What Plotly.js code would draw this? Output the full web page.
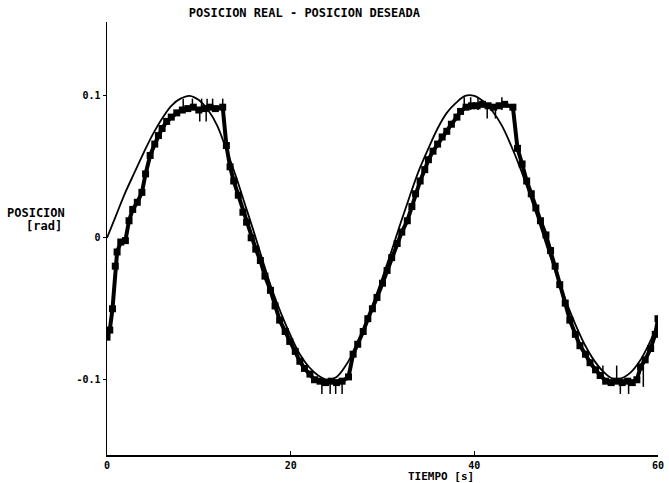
<!DOCTYPE html>
<html>
<head>
<meta charset="utf-8">
<script src="https://cdn.plot.ly/plotly-3.0.1.min.js"></script>
<style>html,body{margin:0;padding:0;background:#fff;}#chart{width:669px;height:483px;}</style>
</head>
<body>
<div id="chart"></div>
<script>
// Posicion deseada (thin line)
const tDeseada = [0,1,2,3,4,5,6,7,8,9,10,11,12,13,14,15,16,17,18,19,20,21,22,23,24,25,26,27,28,29,30,31,32,33,34,35,36,37,38,39,40,41,42,43,44,45,46,47,48,49,50,51,52,53,54,55,56,57,58,59,60];
const posDeseada = [0.000,0.016,0.032,0.046,0.060,0.073,0.084,0.093,0.098,0.100,0.097,0.090,0.079,0.062,0.044,0.024,0.004,-0.017,-0.037,-0.054,-0.069,-0.082,-0.091,-0.097,-0.100,-0.098,-0.090,-0.078,-0.063,-0.046,-0.028,-0.009,0.011,0.030,0.048,0.063,0.077,0.088,0.095,0.100,0.100,0.096,0.089,0.079,0.065,0.049,0.031,0.012,-0.008,-0.027,-0.045,-0.061,-0.075,-0.086,-0.094,-0.099,-0.099,-0.095,-0.087,-0.075,-0.060];

// Posicion real (thick stepped line)
const tReal = [0.0,0.3,0.6,0.9,1.1,1.5,2.0,2.4,2.8,3.3,3.8,4.2,4.7,5.2,5.6,6.0,6.5,7.0,7.6,8.2,8.8,9.4,10.0,10.6,11.2,11.8,12.6,13.0,13.4,13.8,14.3,14.8,15.2,15.7,16.2,16.7,17.2,17.8,18.3,18.8,19.4,19.9,20.5,21.0,21.5,22.1,22.6,23.2,23.8,24.4,25.0,25.6,26.3,26.8,27.3,27.9,28.4,28.9,29.4,30.0,30.5,31.0,31.6,32.1,32.7,33.2,33.6,34.1,34.6,35.0,35.5,36.0,36.5,37.0,37.5,38.1,38.5,39.1,39.7,40.3,40.9,41.5,42.1,42.7,43.3,44.2,44.7,45.2,45.7,46.2,46.7,47.2,47.8,48.3,48.8,49.3,49.9,50.4,51.0,51.5,52.1,52.6,53.2,53.7,54.3,54.9,55.5,56.1,56.7,57.2,57.7,58.1,58.6,59.2,59.7,60.0];
const posReal = [-0.070,-0.065,-0.050,-0.020,-0.010,-0.003,-0.002,0.012,0.020,0.025,0.032,0.045,0.058,0.066,0.072,0.077,0.082,0.085,0.088,0.090,0.091,0.092,0.090,0.091,0.092,0.091,0.092,0.065,0.050,0.040,0.030,0.018,0.011,0.000,-0.008,-0.016,-0.027,-0.037,-0.048,-0.058,-0.066,-0.073,-0.080,-0.087,-0.092,-0.096,-0.100,-0.101,-0.102,-0.101,-0.102,-0.101,-0.098,-0.082,-0.075,-0.066,-0.057,-0.050,-0.042,-0.032,-0.023,-0.014,-0.004,0.004,0.012,0.022,0.031,0.040,0.048,0.055,0.061,0.066,0.071,0.075,0.080,0.085,0.089,0.092,0.093,0.093,0.094,0.093,0.092,0.093,0.094,0.092,0.063,0.052,0.040,0.031,0.021,0.012,0.002,-0.009,-0.020,-0.033,-0.046,-0.058,-0.068,-0.076,-0.082,-0.088,-0.093,-0.097,-0.101,-0.102,-0.101,-0.102,-0.101,-0.102,-0.100,-0.091,-0.086,-0.078,-0.068,-0.057];

// Ruido (vertical spikes on the real signal)
const tRuido  = [8.3,9.3,10.1,10.3,10.8,10.9,11.5,12.6,23.4,24.3,24.9,25.6,38.9,39.6,40.4,41.4,42.3,43.0,54.0,55.5,55.9,56.8,58.4];
const ruidoLo = [0.090,0.090,0.082,0.090,0.082,0.090,0.090,0.090,-0.110,-0.110,-0.110,-0.110,0.090,0.090,0.090,0.084,0.084,0.090,-0.100,-0.100,-0.110,-0.110,-0.105];
const ruidoHi = [0.098,0.098,0.092,0.098,0.092,0.098,0.098,0.098,-0.100,-0.100,-0.100,-0.100,0.099,0.099,0.099,0.093,0.093,0.099,-0.090,-0.090,-0.100,-0.100,-0.090];

const xTicks = [0,20,40,60];
const xTickText = ['0','20','40','60'];
const yTicks = [-0.1,0,0.1];
const yTickText = ['-0.1','0','0.1'];

const sx = [], sy = [];
for (let i = 0; i < tRuido.length; i++) {
  sx.push(tRuido[i], tRuido[i], null);
  sy.push(ruidoLo[i], ruidoHi[i], null);
}

const font = {family: '"DejaVu Sans Mono", monospace', size: 12, color: '#000'};
const tickFont = {family: '"DejaVu Sans Mono", monospace', size: 10, color: '#000'};
const xTitleFont = {family: '"DejaVu Sans Mono", monospace', size: 11, color: '#000'};

const traces = [
  {x: tDeseada, y: posDeseada, mode: 'lines', line: {color: '#000', width: 1.8, shape: 'spline'}, hoverinfo: 'skip'},
  {x: tReal, y: posReal, mode: 'lines+markers', line: {color: '#000', width: 4}, marker: {symbol: 'square', size: 7, color: '#000'}, hoverinfo: 'skip'},
  {x: sx, y: sy, mode: 'lines', line: {color: '#000', width: 1.5}, connectgaps: false, hoverinfo: 'skip'}
];

const layout = {
  width: 669, height: 483,
  margin: {l: 107, r: 11, t: 22, b: 28},
  paper_bgcolor: '#fff', plot_bgcolor: '#fff',
  showlegend: false,
  font: font,
  title: {text: '<b>POSICION REAL - POSICION DESEADA</b>', font: font, x: 0.455, xref: 'container', xanchor: 'center', y: 0.973, yref: 'container', yanchor: 'middle'},
  xaxis: {range: [0, 60], tickvals: xTicks, ticktext: xTickText.map(s => '<b>' + s + '</b>'), showgrid: false, zeroline: false, showline: true, linecolor: '#000', linewidth: 1.5, ticks: 'inside', ticklen: 4, tickcolor: '#000', tickfont: tickFont, title: {text: ''}},
  yaxis: {range: [-0.153, 0.152], tickvals: yTicks, ticktext: yTickText.map(s => '<b>' + s + '</b>'), showgrid: false, zeroline: false, showline: true, linecolor: '#000', linewidth: 1.5, ticks: 'outside', ticklen: 3, tickcolor: '#000', tickfont: tickFont, title: {text: ''}},
  annotations: [
    {text: '<b>TIEMPO [s]</b>', xref: 'paper', yref: 'paper', x: (441 - 107) / 551, y: -(476 - 455) / 433, xanchor: 'center', yanchor: 'middle', showarrow: false, font: xTitleFont},
    {text: '<b>POSICION</b>', xref: 'paper', yref: 'paper', x: (36 - 107) / 551, y: (455 - 213) / 433, xanchor: 'center', yanchor: 'middle', showarrow: false, font: font},
    {text: '<b>[rad]</b>', xref: 'paper', yref: 'paper', x: (44 - 107) / 551, y: (455 - 226) / 433, xanchor: 'center', yanchor: 'middle', showarrow: false, font: font}
  ]
};

Plotly.newPlot('chart', traces, layout, {staticPlot: true, displayModeBar: false});
</script>
</body>
</html>
